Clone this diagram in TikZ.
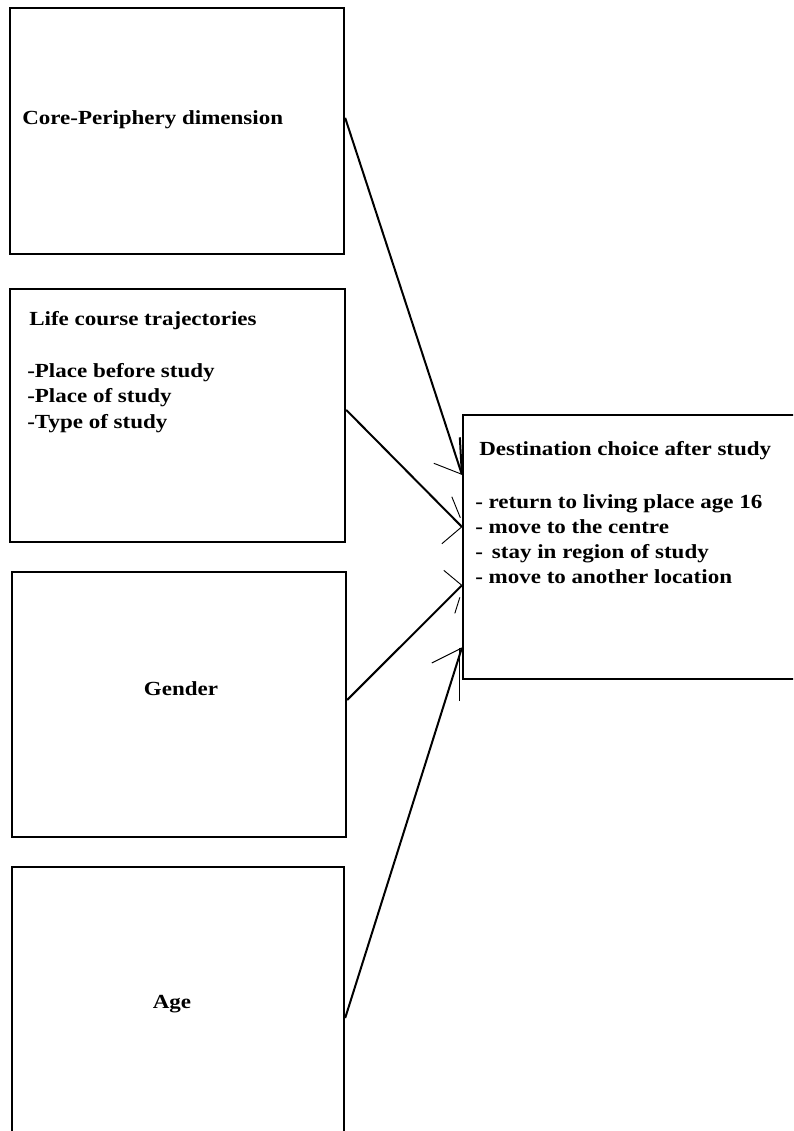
\documentclass[tikz,border=0pt]{standalone}
\usepackage{fontspec}
\setmainfont{Liberation Serif}[FakeStretch=1.15]
\usetikzlibrary{calc}
\begin{document}
\begin{tikzpicture}[x=0.75pt,y=-0.75pt,
  box/.style={draw,line width=1.75pt,rectangle,inner sep=0pt},
  conn/.style={line width=1.5pt},
  barb/.style={line width=0.7pt},
  lbl/.style={anchor=base west,inner sep=0pt,font=\fontsize{15}{19}\selectfont\bfseries},
  clbl/.style={anchor=base,inner sep=0pt,font=\fontsize{15}{19}\selectfont\bfseries}]
\useasboundingbox (0,0) rectangle (793,1131);
\clip (0,0) rectangle (793,1131);
% boxes
\node[box,minimum width=334*0.75pt,minimum height=246*0.75pt] (b1) at (177,131) {};
\node[box,minimum width=335*0.75pt,minimum height=253*0.75pt] (b2) at (177.5,415.5) {};
\node[box,minimum width=334*0.75pt,minimum height=265*0.75pt] (b3) at (179,704.5) {};
\node[box,minimum width=332*0.75pt,minimum height=278*0.75pt] (b4) at (178,1006) {};
\node[box,minimum width=337*0.75pt,minimum height=264*0.75pt] (d) at (631.5,547) {};
% texts
\node[lbl] (t-core) at (22,124) {Core-Periphery dimension};
\node[lbl] (t-life) at (29,325) {Life course trajectories};
\node[lbl] (t-l1) at (27,377) {-Place before study};
\node[lbl] (t-l2) at (27,402) {-Place of study};
\node[lbl] (t-l3) at (27,428) {-Type of study};
\node[clbl] (t-gender) at (181,695) {Gender};
\node[clbl] (t-age) at (172,1008) {Age};
\node[lbl] (t-dest) at (479,455) {Destination choice after study};
\node[lbl] (t-d1) at (475,508) {- return to living place age 16};
\node[lbl] (t-d2) at (475,533) {- move to the centre};
\node[lbl] (t-d3) at (475,558) {-\, stay in region of study};
\node[lbl] (t-d4) at (475,583) {- move to another location};
% connector end points
\coordinate (s1) at ($(b1.north east)!0.447!(b1.south east)$);
\coordinate (s2) at ($(b2.north east)!0.478!(b2.south east)$);
\coordinate (s3) at ($(b3.north east)!0.483!(b3.south east)$);
\coordinate (s4) at ($(b4.north east)!0.543!(b4.south east)$);
\coordinate (e1) at ($(d.north west)!0.227!(d.south west)$);
\coordinate (e2) at ($(d.north west)!0.424!(d.south west)$);
\coordinate (e3) at ($(d.north west)!0.644!(d.south west)$);
\coordinate (e4) at ($(d.north west)!0.879!(d.south west)$);
% connectors
\draw[conn] (s1) -- (e1);
\draw[conn] (s2) -- (e2);
\draw[conn] (s3) -- (e3);
\draw[conn] (s4) -- (e4);
% open arrow heads
\draw[barb] ($(e1)+(-28,-11)$) -- (e1);
\draw[line width=1.5pt] ($(e1)+(-2,-37)$) -- (e1);
\draw[barb] ($(e2)+(-10,-30)$) -- ($(e2)+(-1.5,-9)$);
\draw[barb] ($(e2)+(-20,17)$) -- (e2);
\draw[barb] ($(e3)+(-18,-15)$) -- (e3);
\draw[barb] ($(e3)+(-7,28)$) -- ($(e3)+(-2,12)$);
\draw[barb] ($(e4)+(-30,15)$) -- (e4);
\draw[barb] ($(e4)+(-2,0)$) -- ($(e4)+(-2,53)$);
\end{tikzpicture}
\end{document}
